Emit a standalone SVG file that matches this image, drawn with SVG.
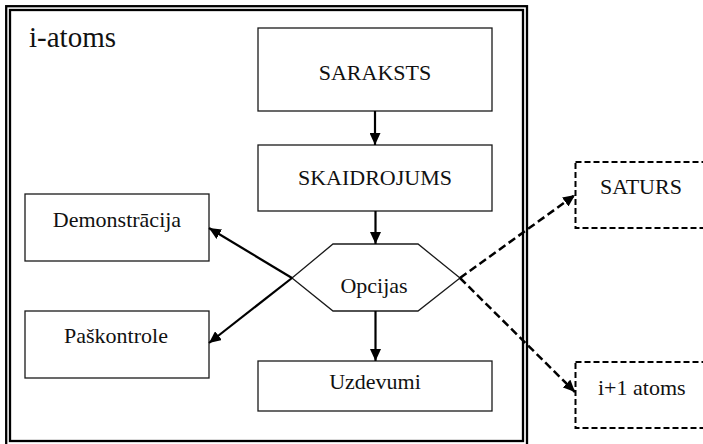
<svg xmlns="http://www.w3.org/2000/svg" width="703" height="444" viewBox="0 0 703 444">
  <style>
    .box { fill: #ffffff; stroke: #1a1a1a; stroke-width: 1.3; }
    .dbox { fill: none; stroke: #000; stroke-width: 2; stroke-dasharray: 6 3; }
    .frame { fill: none; stroke: #000; stroke-width: 2.3; }
    .lbl { font-family: "Liberation Serif", "Times New Roman", serif; font-size: 22px; fill: #111; }
    .mid { text-anchor: middle; }
    .arrow { fill: none; stroke: #000; stroke-width: 2.2; }
    .darrow { fill: none; stroke: #000; stroke-width: 2.5; stroke-dasharray: 8 4; }
  </style>
  <defs>
    <marker id="head" viewBox="0 0 12 11" refX="12" refY="5.5" markerWidth="12" markerHeight="11" markerUnits="userSpaceOnUse" orient="auto">
      <path d="M0,0 L12,5.5 L0,11 z" fill="#000"/>
    </marker>
  </defs>

  <rect width="703" height="444" fill="#ffffff"/>

  <!-- double-line frame of the current atom -->
  <g id="frame">
    <rect class="frame" x="6.2" y="6.2" width="520.8" height="440"/>
    <rect class="frame" x="10" y="10" width="513" height="431"/>
    <text class="lbl" x="29" y="47" style="font-size:29px">i-atoms</text>
  </g>

  <g id="saraksts">
    <rect class="box" x="258" y="28" width="234" height="83"/>
    <text class="lbl mid" x="375" y="80">SARAKSTS</text>
  </g>

  <g id="skaidrojums">
    <rect class="box" x="258" y="145" width="234" height="66"/>
    <text class="lbl mid" x="375" y="185">SKAIDROJUMS</text>
  </g>

  <g id="opcijas">
    <polygon class="box" points="292,278 333,244 418,244 460,278 418,311 333,311"/>
    <text class="lbl mid" x="374" y="293">Opcijas</text>
  </g>

  <g id="demonstracija">
    <rect class="box" x="25" y="194" width="184" height="67"/>
    <text class="lbl mid" x="117" y="227">Demonstrācija</text>
  </g>

  <g id="paskontrole">
    <rect class="box" x="25" y="311" width="184" height="67"/>
    <text class="lbl mid" x="116" y="343">Paškontrole</text>
  </g>

  <g id="uzdevumi">
    <rect class="box" x="258" y="361" width="234" height="50"/>
    <text class="lbl mid" x="375" y="389">Uzdevumi</text>
  </g>

  <g id="saturs">
    <rect class="dbox" x="575.5" y="162" width="140" height="66"/>
    <text class="lbl" x="600" y="194">SATURS</text>
  </g>

  <g id="nakamais-atoms">
    <rect class="dbox" x="575.5" y="362" width="140" height="66"/>
    <text class="lbl" x="598" y="395">i+1 atoms</text>
  </g>

  <!-- connectors -->
  <g id="connectors">
    <line class="arrow" x1="375" y1="111" x2="375" y2="145" marker-end="url(#head)"/>
    <line class="arrow" x1="375.5" y1="211" x2="375.5" y2="244" marker-end="url(#head)"/>
    <line class="arrow" x1="375.5" y1="311" x2="375.5" y2="361" marker-end="url(#head)"/>
    <line class="arrow" x1="292" y1="278" x2="209" y2="228" marker-end="url(#head)"/>
    <line class="arrow" x1="292" y1="278" x2="209" y2="343" marker-end="url(#head)"/>
    <line class="darrow" x1="460" y1="278" x2="575" y2="195" marker-end="url(#head)"/>
    <line class="darrow" x1="460" y1="278" x2="575" y2="392" marker-end="url(#head)"/>
  </g>
</svg>
